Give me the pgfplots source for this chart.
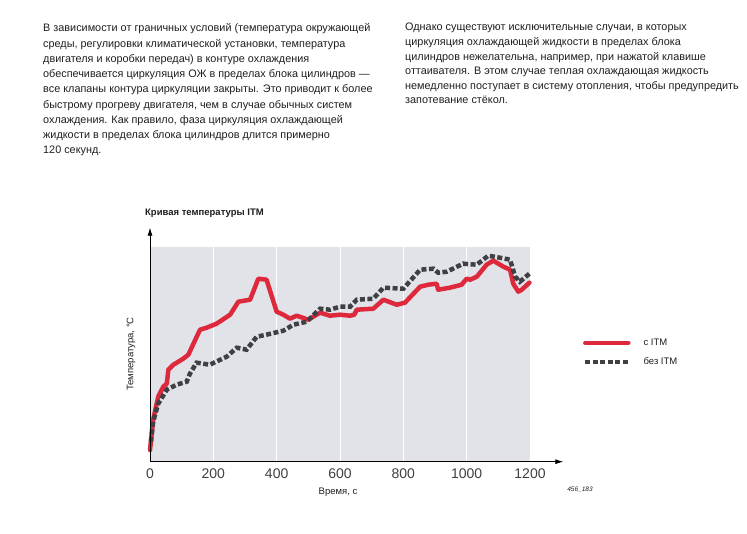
\documentclass[border=0pt]{standalone}
\usepackage{fontspec}
\setmainfont{Liberation Sans}
\usepackage{pgfplots}
\pgfplotsset{compat=1.18}
\usetikzlibrary{arrows.meta}
\definecolor{itmred}{RGB}{222,40,60}
\definecolor{itmdark}{RGB}{62,64,68}
\definecolor{bggray}{RGB}{226,227,232}
\definecolor{txt}{RGB}{30,30,30}
\begin{document}
\begin{tikzpicture}[x=1pt,y=1pt]
\begin{scope}[every node/.style={anchor=base west, inner sep=0pt, font=\fontsize{10.85}{13}\selectfont, text=txt}]
\node at (43,501) {В зависимости от граничных условий (температура окружающей};
\node at (43,485.75) {среды, регулировки климатической установки, температура};
\node at (43,470.5) {двигателя и коробки передач) в контуре охлаждения};
\node at (43,455.25) {обеспечивается циркуляция ОЖ в пределах блока цилиндров —};
\node at (43,440) {все клапаны контура циркуляции закрыты. Это приводит к более};
\node at (43,424.75) {быстрому прогреву двигателя, чем в случае обычных систем};
\node at (43,409.5) {охлаждения. Как правило, фаза циркуляция охлаждающей};
\node at (43,394.25) {жидкости в пределах блока цилиндров длится примерно};
\node at (43,379) {120 секунд.};
\node at (405,502) {Однако существуют исключительные случаи, в которых};
\node at (405,487.4) {циркуляция охлаждающей жидкости в пределах блока};
\node at (405,472.8) {цилиндров нежелательна, например, при нажатой клавише};
\node at (405,458.2) {оттаивателя. В этом случае теплая охлаждающая жидкость};
\node at (405,443.6) {немедленно поступает в систему отопления, чтобы предупредить};
\node at (405,429) {запотевание стёкол.};
\end{scope}
\node[anchor=west, inner sep=0pt, font=\fontsize{9.5}{11}\selectfont\bfseries, text=txt] at (145,320) {Кривая температуры ITM};
\node[inner sep=0pt, font=\fontsize{9.5}{11}\selectfont, text=txt] at (338,41) {Время, с};
\node[inner sep=0pt, rotate=90, font=\fontsize{9.5}{11}\selectfont, text=txt] at (131,179) {Температура, °C};
\node[inner sep=0pt, font=\fontsize{6.5}{8}\selectfont\itshape, text=txt] at (580,43) {456\_183};
\begin{axis}[
  at={(150pt,71.3pt)}, anchor=origin,
  x=0.31667pt, y=1pt,
  xmin=0, xmax=1305, ymin=0, ymax=234,
  axis lines=left,
  axis on top,
  axis line style={line width=0.8pt, black, -{Latex[length=8pt,width=5pt]}},
  xtick={0,200,...,1200}, ytick=\empty,
  major tick length=0pt,
  xticklabel style={font=\fontsize{14}{16}\selectfont, text=txt!85, yshift=-3pt},
  /pgf/number format/assume math mode=true,
  /pgf/number format/1000 sep={},
  clip=false,
  legend style={draw=none, fill=none, at={(axis cs:1367,109.2)}, anchor=west, inner sep=0pt,
    font=\fontsize{9.5}{11}\selectfont, row sep=11pt, text=txt,
    nodes={inner sep=0pt}},
  legend cell align=left,
  legend image code/.code={\draw[#1] (0pt,0pt) -- (43pt,0pt);},
  /tikz/every odd column/.append style={column sep=13pt},
]
\fill[bggray] (axis cs:0,0) rectangle (axis cs:1200,215);
\pgfplotsinvokeforeach{200,400,600,800,1000}{
  \draw[white, line width=1pt] (axis cs:#1,0) -- (axis cs:#1,215);
}
\addplot[itmred, line width=4.5pt, line join=round, line cap=round] coordinates {
(0,11.7) (10,42) (26,65) (42,75) (53,78) (58,92) (74,97) (105,103) (121,107)
(158,132) (179,134) (210,138) (253,147) (279,160) (316,162) (342,183) (368,182)
(400,150) (421,147) (442,143) (463,146) (500,142) (537,149) (568,146) (600,147)
(632,146) (645,147) (653,152) (705,153) (737,162) (779,157) (805,159) (853,175)
(879,177) (905,178) (910,172) (947,174) (984,177) (1000,183) (1011,182) (1032,185)
(1063,197) (1084,201) (1116,195) (1137,192) (1147,178) (1163,170) (1174,172) (1198,179)
};
\addlegendentry{с ITM}
\addplot[itmdark, line width=4.5pt, dash pattern=on 5pt off 2.5pt] coordinates {
(3,20) (10,40) (26,58) (53,72) (84,77) (116,80) (126,88) (147,99) (189,97)
(242,105) (274,114) (305,112) (337,125) (368,127) (421,131) (453,137) (495,140)
(537,153) (568,152) (600,155) (632,155) (653,162) (705,163) (737,174) (800,173)
(853,192) (895,193) (910,189) (937,190) (989,198) (1032,197) (1068,206) (1105,204)
(1137,202) (1153,185) (1168,180) (1198,188)
};
\addlegendentry{без ITM}
\end{axis}
\pgfresetboundingbox
\useasboundingbox (0,0) rectangle (747,533);
\end{tikzpicture}
\end{document}
